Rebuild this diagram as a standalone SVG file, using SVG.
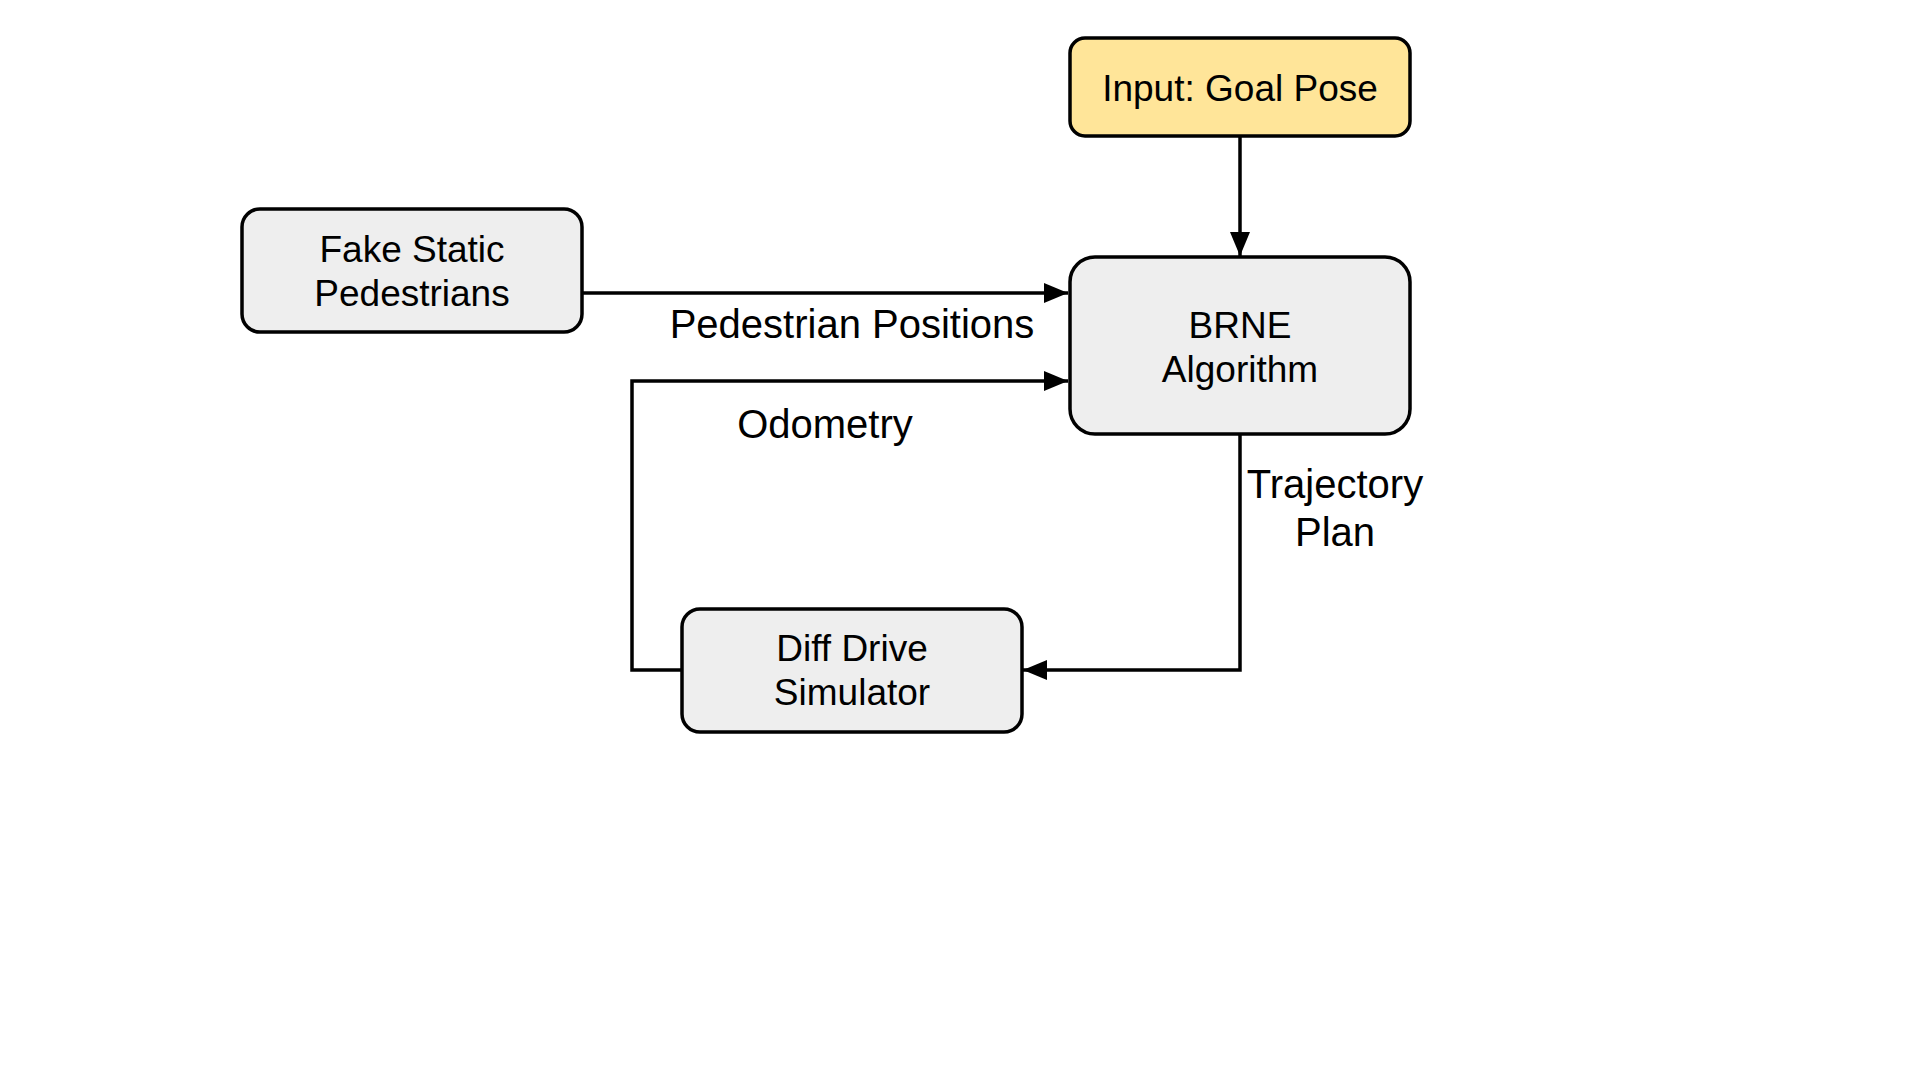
<svg xmlns="http://www.w3.org/2000/svg" width="1920" height="1080" viewBox="0 0 1920 1080">
<defs>
<style>
.node{fill:#eeeeee;stroke:#000;stroke-width:3.5}
.goal{fill:#ffe599;stroke:#000;stroke-width:3.5}
.nt{font-family:"Liberation Sans",Arial,sans-serif;font-size:37px;fill:#000;text-anchor:middle}
.et{font-family:"Liberation Sans",Arial,sans-serif;font-size:40px;fill:#000;text-anchor:middle}
.edge{fill:none;stroke:#000;stroke-width:3.5}
</style>
<marker id="arr" viewBox="0 0 24 20" refX="24" refY="10" markerWidth="24" markerHeight="20" markerUnits="userSpaceOnUse" orient="auto">
<path d="M0,0 L24,10 L0,20 Z" fill="#000"/>
</marker>
</defs>
<rect width="1920" height="1080" fill="#fff"/>
<g id="connectors">
<path class="edge" d="M1240,136 V256" marker-end="url(#arr)"/>
<path class="edge" d="M582,293 H1068" marker-end="url(#arr)"/>
<path class="edge" d="M682,670 H632 V381 H1068" marker-end="url(#arr)"/>
<path class="edge" d="M1240,434 V670 H1023" marker-end="url(#arr)"/>
<text class="et" x="852" y="338">Pedestrian Positions</text>
<text class="et" x="825" y="438">Odometry</text>
<text class="et" x="1335" y="498">Trajectory</text>
<text class="et" x="1335" y="546">Plan</text>
</g>
<g id="goal">
<rect class="goal" x="1070" y="38" width="340" height="98" rx="15"/>
<text class="nt" x="1240" y="101">Input: Goal Pose</text>
</g>
<g id="brne">
<rect class="node" x="1070" y="257" width="340" height="177" rx="25"/>
<text class="nt" x="1240" y="338">BRNE</text>
<text class="nt" x="1240" y="382">Algorithm</text>
</g>
<g id="pedestrians">
<rect class="node" x="242" y="209" width="340" height="123" rx="18"/>
<text class="nt" x="412" y="262">Fake Static</text>
<text class="nt" x="412" y="306">Pedestrians</text>
</g>
<g id="simulator">
<rect class="node" x="682" y="609" width="340" height="123" rx="18"/>
<text class="nt" x="852" y="661">Diff Drive</text>
<text class="nt" x="852" y="705">Simulator</text>
</g>
</svg>
